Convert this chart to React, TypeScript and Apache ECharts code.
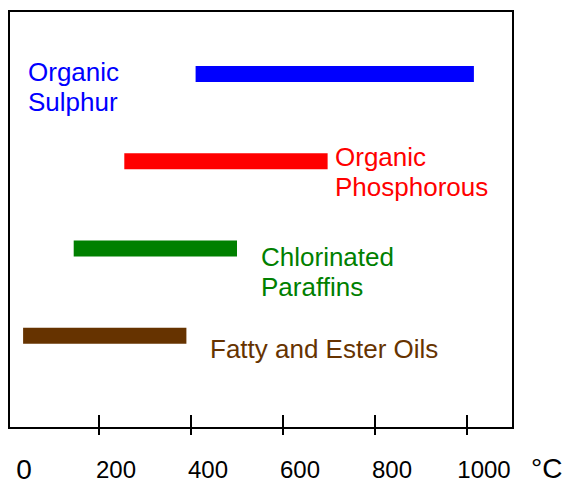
import React, { useEffect, useRef } from "react";
import * as echarts from "echarts";

const categories = ["Organic Sulphur", "Organic Phosphorous", "Chlorinated Paraffins", "Fatty and Ester Oils"];
const labelTexts = ["Organic\nSulphur", "Organic\nPhosphorous", "Chlorinated\nParaffins", "Fatty and Ester Oils"];
const rangeStart = [410, 255, 145, 35];
const rangeEnd = [1015, 697, 500, 390];
const barColors = ["#0000ff", "#ff0000", "#008000", "#663300"];
const tickMarks = [200, 400, 600, 800, 1000];
const tickLabels = [0, 200, 400, 600, 800, 1000];
const unitLabel = "°C";

const FONT = "'Liberation Sans', Arial, sans-serif";

// label placement (top-left of text box)
const labelPos: [number, number][] = [
  [28, 57],
  [335, 142],
  [261, 242],
  [210, 334],
];

export default function App() {
  const ref = useRef<HTMLDivElement>(null);
  useEffect(() => {
    if (!ref.current) return;
    const chart = echarts.init(ref.current, null, { renderer: "svg" });
    const gridLeft = 7;
    const gridRight = 53;
    chart.setOption({
      animation: false,
      backgroundColor: "#ffffff",
      grid: [
        { left: gridLeft, right: gridRight, top: 11, bottom: 55, show: false, containLabel: false, outerBoundsMode: "none" },
        { left: gridLeft, right: gridRight, top: 30.4, height: 349, show: false, containLabel: false, outerBoundsMode: "none" },
      ],
      xAxis: [
        {
          gridIndex: 0,
          type: "value",
          min: 0,
          max: 1100,
          position: "bottom",
          axisLine: { show: false },
          splitLine: { show: false },
          axisTick: {
            show: true,
            inside: true,
            length: 13,
            customValues: tickMarks,
            lineStyle: { color: "#000", width: 2 },
          },
          axisLabel: {
            show: true,
            customValues: tickLabels,
            margin: 27,
            fontSize: 24,
            lineHeight: 28,
            fontFamily: FONT,
            color: "#000",
            padding: [0, 0, 0, 34],
            formatter: (v: number) => (v === 0 ? "{big|0}" : String(v)),
            rich: { big: { fontSize: 28, lineHeight: 28, fontFamily: FONT, color: "#000" } },
          },
        },
        {
          gridIndex: 0,
          type: "value",
          min: 0,
          max: 1100,
          position: "bottom",
          axisLine: { show: false },
          splitLine: { show: false },
          axisLabel: { show: false },
          axisTick: {
            show: true,
            inside: false,
            length: 7,
            customValues: tickMarks,
            lineStyle: { color: "#000", width: 2 },
          },
        },
        {
          gridIndex: 1,
          type: "value",
          min: 0,
          max: 1100,
          show: false,
        },
      ],
      yAxis: [
        { gridIndex: 0, type: "value", show: false, min: 0, max: 1 },
        { gridIndex: 1, type: "category", data: categories, inverse: true, show: false },
      ],
      series: [
        {
          type: "custom",
          xAxisIndex: 2,
          yAxisIndex: 1,
          encode: { x: [1, 2], y: 0 },
          data: categories.map((c, i) => ({
            value: [i, rangeStart[i], rangeEnd[i]],
            itemStyle: { color: barColors[i] },
          })),
          renderItem: (params: any, api: any) => {
            const y = api.value(0);
            const s = api.coord([api.value(1), y]);
            const e = api.coord([api.value(2), y]);
            const h = 16;
            return {
              type: "rect",
              shape: { x: s[0], y: s[1] - h / 2, width: e[0] - s[0], height: h },
              style: { fill: api.visual("color") },
            };
          },
        },
      ],
      graphic: [
        {
          type: "rect",
          shape: { x: 9, y: 11, width: 504, height: 417 },
          style: { fill: "none", stroke: "#000", lineWidth: 2 },
          silent: true,
        },
        ...labelTexts.map((t, i) => ({
          type: "text",
          x: labelPos[i][0],
          y: labelPos[i][1],
          style: {
            text: t,
            fill: barColors[i],
            font: `26px ${FONT}`,
            lineHeight: 30,
            verticalAlign: "top",
            align: "left",
          },
        })),
        {
          type: "text",
          x: 531,
          y: 468.5,
          style: {
            text: unitLabel,
            fill: "#000",
            font: `28px ${FONT}`,
            verticalAlign: "middle",
            align: "left",
          },
        },
      ],
    });
    return () => chart.dispose();
  }, []);
  return (
    <div
      ref={ref}
      style={{ position: "fixed", left: 0, top: 0, width: 566, height: 483 }}
    />
  );
}
